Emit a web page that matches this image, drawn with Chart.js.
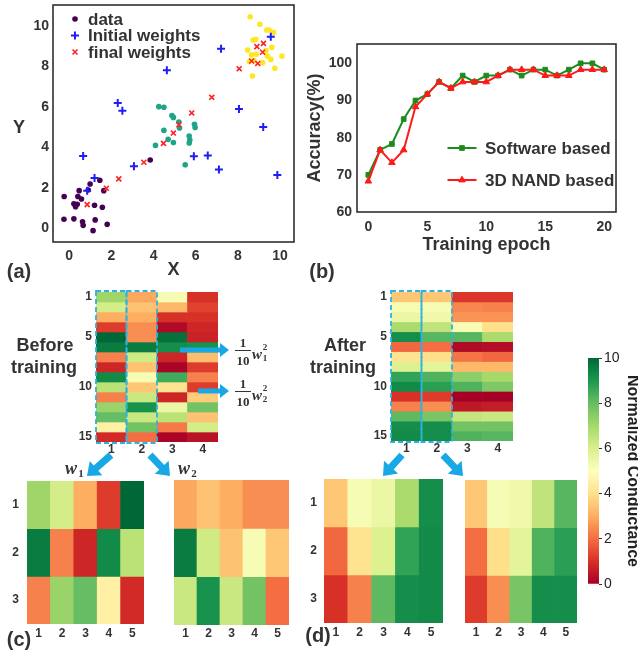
<!DOCTYPE html>
<html>
<head>
<meta charset="utf-8">
<script src="https://cdn.jsdelivr.net/npm/chart.js@4.4.1/dist/chart.umd.min.js"></script>
<style>
  body { margin: 0; width: 638px; height: 654px; overflow: hidden; background: #fff; position: relative;
         font-family: Arial, "Liberation Sans", sans-serif; color: #333; }
  canvas { position: absolute; }
  .t { position: absolute; font-weight: bold; white-space: nowrap; line-height: 1; transform: translate(-50%, -50%); }
  .s { font-family: "Liberation Serif", "DejaVu Serif", serif; }
  #ann { position: absolute; left: 0; top: 0; }
</style>
</head>
<body>
<canvas id="cA"></canvas>
<canvas id="cB"></canvas>
<canvas id="hBefore"></canvas>
<canvas id="hAfter"></canvas>
<canvas id="cW1"></canvas>
<canvas id="cW2"></canvas>
<canvas id="dW1"></canvas>
<canvas id="dW2"></canvas>
<canvas id="cbar"></canvas>
<svg id="ann" width="638" height="654"></svg>

<div class="t" style="left:19px;top:127px;font-size:18px">Y</div>
<div class="t" style="left:19px;top:271px;font-size:20px">(a)</div>
<div class="t" style="left:322px;top:271px;font-size:20px">(b)</div>
<div class="t" style="left:19px;top:639px;font-size:20px">(c)</div>
<div class="t" style="left:318px;top:635px;font-size:20px">(d)</div>
<div class="t" style="left:45px;top:345px;font-size:18px">Before</div>
<div class="t" style="left:44px;top:367px;font-size:18px">training</div>
<div class="t" style="left:345px;top:345px;font-size:18px">After</div>
<div class="t" style="left:343px;top:367px;font-size:18px">training</div>

<div class="t s" style="left:243px;top:342px;font-size:13px">1</div>
<div style="position:absolute;left:235px;top:350px;width:16px;border-top:1.2px solid #333"></div>
<div class="t s" style="left:243px;top:360px;font-size:13px">10</div>
<div class="t s" style="left:257px;top:354px;font-size:15px;font-style:italic">w</div>
<div class="t s" style="left:265px;top:347px;font-size:9px">2</div>
<div class="t s" style="left:265px;top:358px;font-size:9px">1</div>

<div class="t s" style="left:243px;top:383px;font-size:13px">1</div>
<div style="position:absolute;left:235px;top:391px;width:16px;border-top:1.2px solid #333"></div>
<div class="t s" style="left:243px;top:401px;font-size:13px">10</div>
<div class="t s" style="left:257px;top:395px;font-size:15px;font-style:italic">w</div>
<div class="t s" style="left:265px;top:388px;font-size:9px">2</div>
<div class="t s" style="left:265px;top:399px;font-size:9px">2</div>

<div class="t s" style="left:71px;top:468px;font-size:18px;font-style:italic">w</div>
<div class="t s" style="left:81px;top:473px;font-size:11px">1</div>
<div class="t s" style="left:184px;top:468px;font-size:18px;font-style:italic">w</div>
<div class="t s" style="left:194px;top:473px;font-size:11px">2</div>

<script>
// ---------- data ----------
// (a) clustering
const dataPurple = [[-0.24,1.58],[-0.25,0.46],[0.22,0.48],[0.22,1.22],[0.3,1.08],[0.38,1.2],[0.41,1.58],
  [0.47,1.87],[0.58,1.46],[0.63,0.34],[0.66,0.16],[0.9,1.9],[0.99,2.2],[1.2,1.15],[1.23,0.43],[1.13,-0.1],
  [1.45,2.38],[1.57,1.05],[1.64,1.87],[1.8,0.21],[3.84,3.38]];
const dataTeal = [[4.25,6.01],[4.49,5.98],[4.87,5.57],[4.94,5.48],[5.2,5.25],[5.23,4.96],[4.49,4.84],
  [4.69,4.4],[4.09,4.1],[4.94,4.24],[5.69,4.56],[5.72,4.37],[5.69,4.22],[5.94,5.14],[5.97,4.98],[5.5,3.15]];
const dataYellow = [[8.58,10.44],[9.04,10.07],[9.37,9.79],[9.48,9.79],[9.69,9.67],[8.72,9.29],[8.85,9.33],
  [8.46,8.8],[8.65,8.56],[8.87,8.59],[9.33,8.77],[9.61,8.93],[9.4,8.5],[9.56,8.34],[9.17,8.18],[8.54,8.23],
  [8.69,7.52],[9.75,7.9],[10.09,8.5],[8.77,8.28]];
const initialWeights = [[0.66,3.58],[0.85,1.87],[1.2,2.5],[2.3,6.19],[2.52,5.81],[3.07,3.07],[4.63,7.8],
  [5.91,3.56],[6.57,3.6],[7.1,2.91],[7.2,8.87],[8.05,5.89],[9.2,5.01],[9.56,9.46],[9.87,2.64]];
const finalWeights = [[0.85,1.18],[1.76,1.99],[2.35,2.45],[3.54,3.27],[4.47,4.2],[4.94,4.71],[5.2,5.12],
  [5.81,5.7],[6.76,6.47],[8.06,7.88],[8.65,8.26],[8.94,8.14],[8.9,8.97],[9.17,8.69],[9.21,9.13]];
const ticksA = [0, 2, 4, 6, 8, 10];

// (b) accuracy
const epochs = [0,1,2,3,4,5,6,7,8,9,10,11,12,13,14,15,16,17,18,19,20];
const softwareAcc = [70,76.7,78.3,85,90,91.7,95,93.3,96.7,95,96.7,96.7,98.3,96.7,98.3,98.3,96.7,98.3,100,100,98.3];
const nandAcc = [68.3,76.7,73.3,76.7,88.3,91.7,95,93.3,95,95,95,96.7,98.3,98.3,98.3,96.7,96.7,96.7,98.3,98.3,98.3];
const ticksBx = [0, 5, 10, 15, 20];
const ticksBy = [60, 70, 80, 90, 100];

// normalized conductance, 15 rows per column
const beforeCol1 = [7.1,6.1,3.0,1.2,10,9.6,2.3,0.8,9.3,6.6,2.3,7.2,8.0,4.5,0.9];
const beforeCol2 = [2.9,3.4,3.0,2.5,2.5,9.6,6.2,3.4,5.2,3.5,6.3,9.1,6.3,7.8,2.0];
const beforeCol3 = [5.2,3.2,1.0,0.2,9.8,9.2,0.8,0.1,8.5,4.1,0.8,5.5,6.6,2.2,0.1];
const beforeCol4 = [1.0,1.3,1.0,0.8,0.7,9.1,3.3,1.2,2.3,1.2,3.6,7.8,3.4,6.1,0.4];
const afterCol1 = [3.5,5.2,5.5,6.9,9.2,1.9,4.1,5.9,8.7,9.3,1.0,2.3,8.1,9.2,9.3];
const afterCol2 = [3.5,5.2,5.4,6.5,8.2,2.0,4.0,5.7,8.3,8.8,1.2,2.5,7.7,9.2,9.2];
const afterCol3 = [1.1,2.4,2.6,5.2,8.2,0.2,2.1,3.2,7.4,8.3,0.0,0.5,6.4,7.8,8.3];
const afterCol4 = [1.1,2.3,2.6,4.0,6.9,0.3,1.9,3.2,7.0,7.6,0.0,0.6,6.3,7.8,8.2];
const bigRowTicks = [1, 5, 10, 15];
const smallRowTicks = [1, 2, 3];
const cbarTicks = [0, 2, 4, 6, 8, 10];

// ---------- helpers ----------
Chart.defaults.font.family = 'Arial, "Liberation Sans", sans-serif';
Chart.defaults.color = '#333';

const RDYLGN = ['#a50026','#d73027','#f46d43','#fdae61','#fee08b','#ffffbf','#d9ef8b','#a6d96a','#66bd63','#1a9850','#006837'];
const hex = h => [1, 3, 5].map(i => parseInt(h.substr(i, 2), 16));
function cmap(v) {
  const t = Math.max(0, Math.min(10, v));
  const i = Math.min(9, Math.floor(t)), f = t - i;
  const a = hex(RDYLGN[i]), b = hex(RDYLGN[i + 1]);
  return 'rgb(' + a.map((c, k) => Math.round(c + (b[k] - c) * f)).join(',') + ')';
}
const rows = (cols) => cols[0].map((_, r) => cols.map(c => c[r]));
const reshape = (col, n) => [0, 1, 2].map(r => col.slice(r * n, r * n + n));
const pts = arr => arr.map(([x, y]) => ({ x, y }));

const drawPt = (Chart.helpers && Chart.helpers.drawPoint) ||
  ((ctx, o, x, y) => { ctx.beginPath(); ctx.arc(x, y, o.radius, 0, 7); ctx.fill(); });

const frame = {
  id: 'frame',
  afterDraw(chart) {
    const { ctx, chartArea: ca } = chart;
    ctx.save();
    ctx.strokeStyle = '#222'; ctx.lineWidth = 1.5;
    ctx.strokeRect(ca.left, ca.top, ca.right - ca.left, ca.bottom - ca.top);
    ctx.restore();
  }
};

const innerLegend = {
  id: 'innerLegend',
  afterDraw(chart, args, o) {
    if (!o.items) return;
    const { ctx, chartArea: ca } = chart;
    ctx.save();
    ctx.font = 'bold 17px Arial, "Liberation Sans", sans-serif';
    ctx.textBaseline = 'middle';
    o.items.forEach((it, i) => {
      const ds = chart.data.datasets[it.ds];
      const y = ca.top + o.y + i * o.step, mx = ca.left + o.x;
      if (o.line) {
        ctx.strokeStyle = ds.borderColor; ctx.lineWidth = ds.borderWidth;
        ctx.beginPath(); ctx.moveTo(mx - o.line / 2, y); ctx.lineTo(mx + o.line / 2, y); ctx.stroke();
      }
      ctx.fillStyle = ds.pointBackgroundColor; ctx.strokeStyle = ds.pointBorderColor;
      ctx.lineWidth = ds.pointBorderWidth;
      drawPt(ctx, { pointStyle: ds.pointStyle, radius: ds.pointRadius, borderWidth: ds.pointBorderWidth, rotation: 0 }, mx, y);
      ctx.fillStyle = '#333';
      ctx.fillText(it.text, ca.left + o.tx, y + 1);
    });
    ctx.restore();
  }
};

const colBoxes = {
  id: 'colBoxes',
  afterDraw(chart, args, o) {
    if (!o.cols) return;
    const { ctx, chartArea: ca } = chart;
    const w = (ca.right - ca.left) / chart.data.labels.length;
    ctx.save();
    ctx.strokeStyle = '#2bb3e8'; ctx.lineWidth = 1.8; ctx.setLineDash([5, 3]);
    o.cols.forEach(c => ctx.strokeRect(ca.left + c * w, ca.top - 1, w, ca.bottom - ca.top + 2));
    ctx.restore();
  }
};

function mount(id, area, m, cfg) {
  const c = document.getElementById(id);
  c.width = m.l + (area[2] - area[0]) + m.r;
  c.height = m.t + (area[3] - area[1]) + m.b;
  c.style.left = (area[0] - m.l) + 'px';
  c.style.top = (area[1] - m.t) + 'px';
  return new Chart(c, cfg);
}

const tickFont = s => ({ size: s, weight: 'bold' });
const noGrid = { grid: { display: false, drawTicks: false }, border: { display: false } };

// ---------- (a) scatter ----------
const mA = { l: 53, t: 16, r: 5, b: 48 };
mount('cA', [53, 5, 295, 242], mA, {
  type: 'scatter',
  data: {
    datasets: [
      { label: 'data', data: pts(dataPurple), pointStyle: 'circle', pointRadius: 2.8, pointBackgroundColor: '#440154', pointBorderColor: '#440154', pointBorderWidth: 0, order: 2 },
      { label: 'Initial weights', data: pts(initialWeights), pointStyle: 'cross', pointRadius: 4, pointBackgroundColor: '#1f1ff5', pointBorderColor: '#1f1ff5', pointBorderWidth: 2, order: 1 },
      { label: 'final weights', data: pts(finalWeights), pointStyle: 'crossRot', pointRadius: 3.5, pointBackgroundColor: '#ff2020', pointBorderColor: '#ff2020', pointBorderWidth: 1.6, order: 0 },
      { label: '', data: pts(dataTeal), pointStyle: 'circle', pointRadius: 2.8, pointBackgroundColor: '#20a386', pointBorderColor: '#20a386', pointBorderWidth: 0, order: 2 },
      { label: '', data: pts(dataYellow), pointStyle: 'circle', pointRadius: 2.8, pointBackgroundColor: '#fde725', pointBorderColor: '#fde725', pointBorderWidth: 0, order: 2 }
    ]
  },
  options: {
    animation: false, responsive: false,
    layout: { padding: { left: 0, top: mA.t, right: mA.r, bottom: 0 } },
    plugins: {
      legend: { display: false }, tooltip: { enabled: false },
      innerLegend: { x: 22, tx: 35, y: 14, step: 16.5, items: [{ ds: 0, text: 'data' }, { ds: 1, text: 'Initial weights' }, { ds: 2, text: 'final weights' }] }
    },
    scales: {
      x: { type: 'linear', min: -0.77, max: 10.66, ...noGrid,
        ticks: { padding: 6, font: tickFont(14) },
        afterBuildTicks: s => { s.ticks = ticksA.map(v => ({ value: v })); },
        title: { display: true, text: 'X', font: { size: 18, weight: 'bold' }, padding: { top: 0, bottom: 9 } },
        afterFit: s => { s.height = mA.b; } },
      y: { type: 'linear', min: -0.66, max: 11.02, ...noGrid,
        ticks: { padding: 4, font: tickFont(14) },
        afterBuildTicks: s => { s.ticks = ticksA.map(v => ({ value: v })); },
        afterFit: s => { s.width = mA.l; } }
    }
  },
  plugins: [frame, innerLegend]
});

// ---------- (b) accuracy ----------
const mB = { l: 57, t: 16, r: 22, b: 50 };
mount('cB', [357, 44, 616, 212], mB, {
  type: 'line',
  data: {
    datasets: [
      { label: 'Software based', data: epochs.map((e, i) => ({ x: e, y: softwareAcc[i] })), borderColor: '#1c8c1c', borderWidth: 2,
        pointStyle: 'rect', pointRadius: 3.3, pointBackgroundColor: '#1c8c1c', pointBorderColor: '#1c8c1c', pointBorderWidth: 1, order: 1 },
      { label: '3D NAND based', data: epochs.map((e, i) => ({ x: e, y: nandAcc[i] })), borderColor: '#ff1a1a', borderWidth: 2,
        pointStyle: 'triangle', pointRadius: 3.8, pointBackgroundColor: '#ff1a1a', pointBorderColor: '#ff1a1a', pointBorderWidth: 1, order: 0 }
    ]
  },
  options: {
    animation: false, responsive: false,
    layout: { padding: { left: 0, top: mB.t, right: mB.r, bottom: 0 } },
    plugins: {
      legend: { display: false }, tooltip: { enabled: false },
      innerLegend: { x: 105, tx: 128, y: 104, step: 32, line: 29, items: [{ ds: 0, text: 'Software based' }, { ds: 1, text: '3D NAND based' }] }
    },
    scales: {
      x: { type: 'linear', min: -0.96, max: 21, ...noGrid,
        ticks: { padding: 7, font: tickFont(14) },
        afterBuildTicks: s => { s.ticks = ticksBx.map(v => ({ value: v })); },
        title: { display: true, text: 'Training epoch', font: { size: 18, weight: 'bold' }, padding: { top: 0, bottom: 6 } },
        afterFit: s => { s.height = mB.b; } },
      y: { type: 'linear', min: 60, max: 105.2, ...noGrid,
        ticks: { padding: 5, font: tickFont(14) },
        afterBuildTicks: s => { s.ticks = ticksBy.map(v => ({ value: v })); },
        title: { display: true, text: 'Accuracy(%)', font: { size: 18, weight: 'bold' }, padding: { top: 4, bottom: 0 } },
        afterFit: s => { s.width = mB.l; } }
    }
  },
  plugins: [frame, innerLegend]
});

// ---------- heatmaps ----------
function heat(id, grid, area, m, yRows, dashed) {
  const nR = grid.length;
  return mount(id, area, m, {
    type: 'bar',
    data: {
      labels: grid[0].map((_, j) => String(j + 1)),
      datasets: grid.map((row, r) => ({
        data: row.map(() => [r, r + 1]),
        backgroundColor: row.map(cmap),
        borderWidth: 0, barPercentage: 1, categoryPercentage: 1, grouped: false
      }))
    },
    options: {
      animation: false, responsive: false,
      layout: { padding: { left: yRows ? 0 : m.l, top: m.t, right: m.r, bottom: 0 } },
      plugins: { legend: { display: false }, tooltip: { enabled: false }, colBoxes: dashed ? { cols: [0, 1] } : {} },
      scales: {
        x: { ...noGrid, ticks: { padding: m.xp, font: tickFont(12) }, afterFit: s => { s.height = m.b; } },
        y: { display: !!yRows, min: 0, max: nR, reverse: true, ...noGrid,
          ticks: { autoSkip: false, padding: m.yp, font: tickFont(12), callback: v => Math.round(v + 0.5) },
          afterBuildTicks: s => { s.ticks = (yRows || []).map(r => ({ value: r - 0.5 })); },
          afterFit: s => { s.width = m.l; } }
      }
    },
    plugins: [colBoxes]
  });
}

const beforeCols = [beforeCol1, beforeCol2, beforeCol3, beforeCol4];
const afterCols = [afterCol1, afterCol2, afterCol3, afterCol4];
heat('hBefore', rows(beforeCols), [96, 292, 218, 442], { l: 36, t: 16, r: 4, b: 16, xp: 0, yp: 4 }, bigRowTicks, true);
heat('hAfter', rows(afterCols), [391, 292, 513, 441], { l: 36, t: 16, r: 4, b: 16, xp: 0, yp: 4 }, bigRowTicks, true);
heat('cW1', reshape(beforeCol1, 5), [27, 481, 144, 624], { l: 27, t: 16, r: 3, b: 18, xp: 2, yp: 8 }, smallRowTicks, false);
heat('cW2', reshape(beforeCol2, 5), [170, 480, 289, 625], { l: 4, t: 16, r: 3, b: 18, xp: 1, yp: 8 }, null, false);
heat('dW1', reshape(afterCol1, 5), [324, 479, 443, 623], { l: 24, t: 16, r: 3, b: 18, xp: 2, yp: 7 }, smallRowTicks, false);
heat('dW2', reshape(afterCol2, 5), [461, 480, 577, 623], { l: 4, t: 16, r: 3, b: 18, xp: 2, yp: 7 }, null, false);

// ---------- colorbar ----------
const mC = { l: 4, t: 16, r: 43, b: 12 };
mount('cbar', [588, 358, 599, 584], mC, {
  type: 'bar',
  data: {
    labels: [''],
    datasets: [{
      data: [[0, 10]], borderWidth: 0, barPercentage: 1, categoryPercentage: 1,
      backgroundColor: c => {
        const ca = c.chart.chartArea;
        if (!ca) return '#ffffbf';
        const g = c.chart.ctx.createLinearGradient(0, ca.bottom, 0, ca.top);
        RDYLGN.forEach((col, k) => g.addColorStop(k / 10, col));
        return g;
      }
    }]
  },
  options: {
    animation: false, responsive: false,
    layout: { padding: { left: mC.l, top: mC.t, right: 0, bottom: mC.b } },
    plugins: { legend: { display: false }, tooltip: { enabled: false } },
    scales: {
      x: { display: false },
      y: { position: 'right', min: 0, max: 10,
        grid: { display: true, drawOnChartArea: false, tickLength: 3, color: '#333' }, border: { display: false },
        ticks: { padding: 2, font: { size: 14 }, color: '#222' },
        afterBuildTicks: s => { s.ticks = cbarTicks.map(v => ({ value: v })); },
        title: { display: true, text: 'Normalized Conductance', font: { size: 16, weight: 'bold' }, color: '#222', padding: { top: 0, bottom: 0 } },
        afterFit: s => { s.width = mC.r; } }
    }
  }
});

// ---------- arrows ----------
const svg = document.getElementById('ann');
function arrow(x1, y1, x2, y2, sw, hl, hw) {
  const L = Math.hypot(x2 - x1, y2 - y1), ux = (x2 - x1) / L, uy = (y2 - y1) / L, px = -uy, py = ux;
  const bx = x2 - ux * hl, by = y2 - uy * hl;
  const p = [[x1 + px * sw / 2, y1 + py * sw / 2], [bx + px * sw / 2, by + py * sw / 2], [bx + px * hw / 2, by + py * hw / 2],
    [x2, y2], [bx - px * hw / 2, by - py * hw / 2], [bx - px * sw / 2, by - py * sw / 2], [x1 - px * sw / 2, y1 - py * sw / 2]];
  const poly = document.createElementNS('http://www.w3.org/2000/svg', 'polygon');
  poly.setAttribute('points', p.map(q => q.join(',')).join(' '));
  poly.setAttribute('fill', '#18a8e6');
  svg.appendChild(poly);
}
arrow(180, 350, 229, 350, 5, 9, 14);
arrow(198, 391, 229, 391, 5, 9, 14);
arrow(111, 455, 87, 476, 7, 12, 19);
arrow(150, 455, 170, 476, 7, 12, 19);
arrow(402, 455, 383, 476, 7, 12, 19);
arrow(443, 455, 463, 476, 7, 12, 19);
</script>
</body>
</html>
